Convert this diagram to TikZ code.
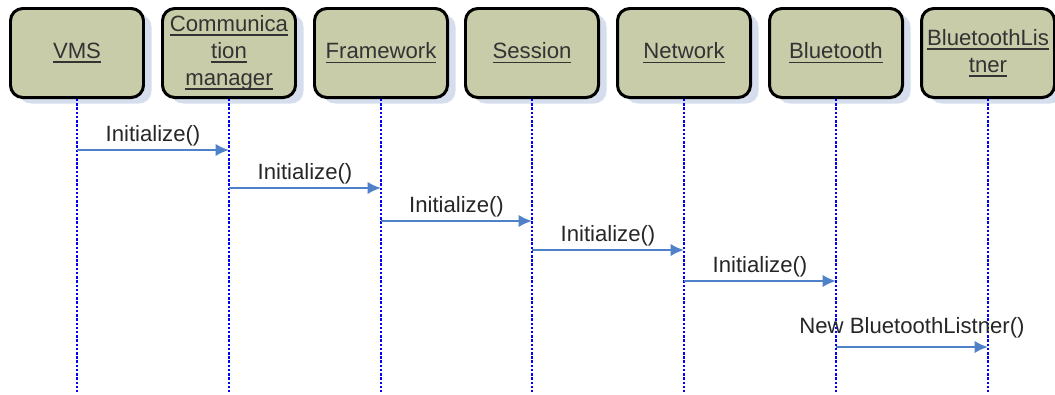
\documentclass[tikz,border=0pt]{standalone}
\usepackage{fontspec}
\setmainfont{Liberation Sans}
\usetikzlibrary{arrows.meta,shadows}
\definecolor{boxfill}{RGB}{200,204,168}
\definecolor{shadowblue}{RGB}{214,222,238}
\definecolor{msgblue}{RGB}{79,129,200}
\newcommand{\ulin}[1]{\leavevmode\setbox0\hbox{#1}\rlap{\rule[-2.4pt]{\wd0}{0.9pt}}\box0}

\begin{document}
\begin{tikzpicture}[x=0.2mm,y=-0.2mm,>={Latex[length=2.7mm,width=2.5mm]},
  obj/.style={draw,line width=1.7pt,rounded corners=7pt,fill=boxfill,
    minimum width=26.6mm,minimum height=17.8mm,inner sep=1pt,align=center,
    font=\fontsize{12.6}{15.3}\selectfont,text=black!80,
    drop shadow={shadow xshift=1.6mm,shadow yshift=-1.2mm,fill=shadowblue,opacity=1}},
  life/.style={blue,densely dotted,line width=1.4pt},
  msg/.style={->,msgblue,line width=1.2pt},
  lbl/.style={midway,above,inner sep=1.5pt,text=black!85,font=\fontsize{12.6}{15}\selectfont}]
  \useasboundingbox (0,0) rectangle (1055,394);
  % objects
  \node[obj] (vms)  at (77,53)  {\ulin{VMS}};
  \node[obj] (comm) at (229,53) {\ulin{Communica}\\\ulin{tion}\\\ulin{manager}};
  \node[obj] (fw)   at (381,53) {\ulin{Framework}};
  \node[obj] (sess) at (532,53) {\ulin{Session}};
  \node[obj] (net)  at (684,53) {\ulin{Network}};
  \node[obj] (bt)   at (836,53) {\ulin{Bluetooth}};
  \node[obj] (btl)  at (988,53) {\ulin{BluetoothLis}\\\ulin{tner}};
  % lifelines
  \coordinate (bot) at (0,392);
  \foreach \n in {vms,comm,fw,sess,net,bt,btl} \draw[life] (\n) -- (\n |- bot);
  % messages
  \coordinate (m1) at (0,150); \coordinate (m2) at (0,188);
  \coordinate (m3) at (0,221); \coordinate (m4) at (0,250);
  \coordinate (m5) at (0,281); \coordinate (m6) at (0,347);
  \draw[msg] (vms |- m1) -- (comm |- m1) node[lbl]{Initialize()};
  \draw[msg] (comm |- m2) -- (fw |- m2) node[lbl]{Initialize()};
  \draw[msg] (fw |- m3) -- (sess |- m3) node[lbl]{Initialize()};
  \draw[msg] (sess |- m4) -- (net |- m4) node[lbl]{Initialize()};
  \draw[msg] (net |- m5) -- (bt |- m5) node[lbl]{Initialize()};
  \draw[msg] (bt |- m6) -- (btl |- m6) node[lbl,yshift=3pt]{New BluetoothListner()};
\end{tikzpicture}
\end{document}
